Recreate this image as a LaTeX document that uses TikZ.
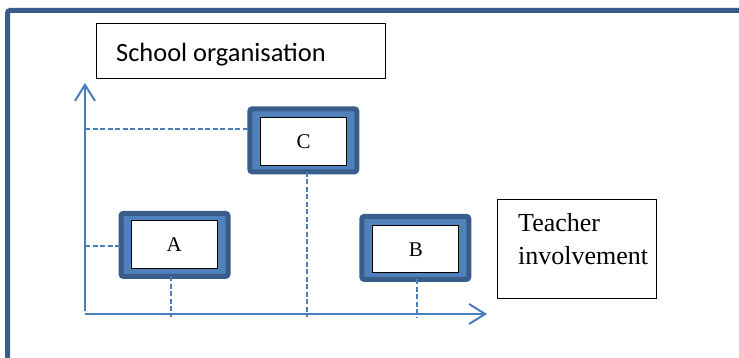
\documentclass[tikz,border=0pt]{standalone}
\usepackage{fontspec}
\setmainfont{Liberation Serif}
\newfontfamily\calfont{Carlito}
\usetikzlibrary{arrows.meta}
\definecolor{frameblue}{HTML}{385D8A}
\definecolor{fillblue}{HTML}{4F81BD}
\definecolor{axisblue}{HTML}{4A7EBB}
\tikzset{
  outerbox/.style={draw=frameblue, fill=fillblue, line width=5pt, rounded corners=2.5pt,
    minimum width=107pt, minimum height=63pt, inner sep=0pt, outer sep=0pt},
  innerbox/.style={draw=black, fill=white, line width=1pt, minimum width=86pt,
    minimum height=47.5pt, inner sep=0pt, font=\fontsize{21}{24}\selectfont},
  labelbox/.style={draw=black, line width=1pt, inner sep=0pt, outer sep=0pt},
  axisline/.style={draw=axisblue, line width=2pt, -{Straight Barb[length=16pt,width=20pt]}},
  guide/.style={draw=axisblue, line width=1.8pt, dash pattern=on 5pt off 2.5pt},
}
\begin{document}
\begin{tikzpicture}[x=1pt,y=-1pt]
\path[use as bounding box] (0,0) rectangle (739,358);
\begin{scope}
\clip (0,0) rectangle (739,358);
\draw[frameblue, line width=5pt, rounded corners=2.5pt] (7.5,10.5) rectangle (780,400);
\end{scope}
% label boxes
\node[labelbox, minimum width=289pt, minimum height=55pt] (sobox) at (240.5,51.5) {};
\node[anchor=base west, inner sep=0pt, font=\calfont\fontsize{26.4}{31}\selectfont] (so) at (116,62) {School organisation};
\node[labelbox, minimum width=159.4pt, minimum height=98pt] (tibox) at (577,249) {};
\node[anchor=base west, inner sep=0pt, align=left, font=\fontsize{26}{33}\selectfont] (ti) at (518,265) {Teacher\\involvement};
% axes
\coordinate (ybot) at (85,311);
\coordinate (ytop) at (85,83);
\coordinate (xl) at (85,314);
\coordinate (xr) at (487,314);
\draw[axisline] (ybot) -- (ytop);
\draw[axisline] (xl) -- (xr);
% boxes
\node[outerbox] (Cout) at (303.3,140.3) {};
\node[innerbox] (C) at (303.5,141.7) {C};
\node[outerbox] (Aout) at (174.5,244.9) {};
\node[innerbox] (A) at (174.3,244.5) {A};
\node[outerbox] (Bout) at (415.3,247.9) {};
\node[innerbox] (B) at (415.9,249.2) {B};
% guides
\coordinate (yC) at (85,129);
\coordinate (yA) at (85,245.7);
\coordinate (xC) at (306.7,317);
\coordinate (xA) at (171.3,317);
\coordinate (xB) at (417,317);
\draw[guide] (yC) -- (yC -| Cout.west);
\draw[guide] (yA) -- (yA -| Aout.west);
\draw[guide] (xC |- Cout.south) -- (xC);
\draw[guide] (xA |- Aout.south) -- (xA);
\draw[guide] (xB |- Bout.south) -- (xB);
\end{tikzpicture}
\end{document}
